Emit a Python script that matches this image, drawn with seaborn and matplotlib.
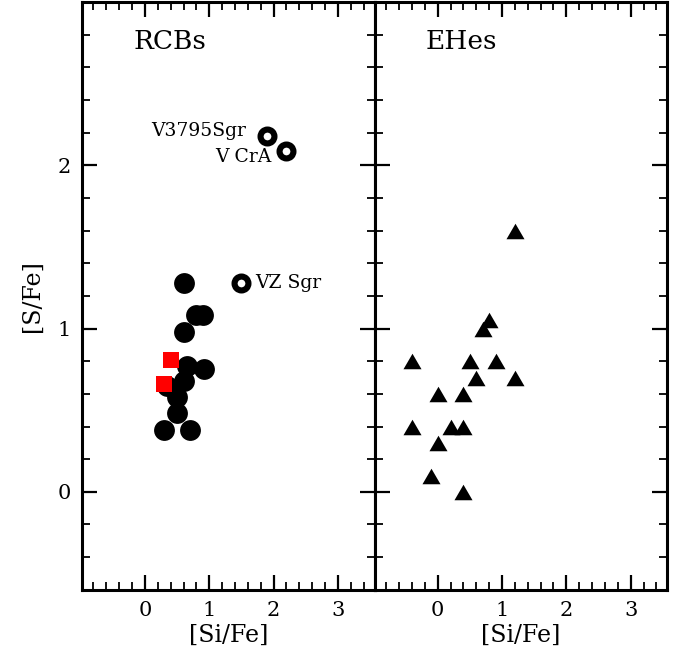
import numpy as np
import pandas as pd
import matplotlib
matplotlib.use("Agg")
import matplotlib.pyplot as plt
from matplotlib.ticker import MultipleLocator
import seaborn as sns

# === DATOS ===
# RCBs (circulos llenos)
rcb_si = [0.8, 0.9, 0.6, 0.6, 0.65, 0.92, 0.6, 0.35, 0.5, 0.5, 0.3, 0.7]
rcb_s = [1.08, 1.08, 1.28, 0.98, 0.77, 0.75, 0.68, 0.65, 0.58, 0.48, 0.38, 0.38]

# RCBs minoritarias (circulos abiertos)
odd_names = ["VZ Sgr", "V3795Sgr", "V CrA"]
odd_si = [1.5, 1.9, 2.2]
odd_s = [1.28, 2.18, 2.09]

# cuadrados rojos
red_si = [0.4, 0.3]
red_s = [0.81, 0.66]

# EHes (triangulos)
ehe_si = [1.2, 0.8, 0.7, -0.4, 0.5, 0.9, 0.6, 1.2, 0.0, 0.4, -0.4, 0.2, 0.4, 0.0, -0.1, 0.4]
ehe_s = [1.6, 1.05, 1.0, 0.8, 0.8, 0.8, 0.7, 0.7, 0.6, 0.6, 0.4, 0.4, 0.4, 0.3, 0.1, 0.0]

x_ticks = [0, 1, 2, 3]
y_ticks = [0, 1, 2]

rcb = pd.DataFrame({"si": rcb_si, "s": rcb_s})
odd = pd.DataFrame({"si": odd_si, "s": odd_s, "name": odd_names})
red = pd.DataFrame({"si": red_si, "s": red_s})
ehe = pd.DataFrame({"si": ehe_si, "s": ehe_s})

sns.set_theme(style="ticks")
plt.rcParams['font.family'] = ['DejaVu Serif']
plt.rcParams['text.color'] = 'black'
plt.rcParams['axes.labelcolor'] = 'black'
plt.rcParams['xtick.color'] = 'black'
plt.rcParams['ytick.color'] = 'black'

fig, (ax1, ax2) = plt.subplots(1, 2, figsize=(6.88, 6.59), dpi=100, sharey=True)
fig.subplots_adjust(left=0.119, right=0.970, bottom=0.105, top=0.997, wspace=0)

# panel izquierdo
sns.scatterplot(data=rcb, x="si", y="s", ax=ax1, color="black", marker="o",
                s=225, linewidth=0, zorder=3, legend=False)
sns.scatterplot(data=odd, x="si", y="s", ax=ax1, color="white", marker="o",
                s=100, edgecolor="black", linewidth=4.4, zorder=3, legend=False)
sns.scatterplot(data=red, x="si", y="s", ax=ax1, color="red", marker="s",
                s=128, linewidth=0, zorder=4, legend=False)

ax1.text(1.71, 1.28, odd_names[0], fontsize=13.5, ha="left", va="center")
ax1.text(1.57, 2.21, odd_names[1], fontsize=13.5, ha="right", va="center")
ax1.text(1.96, 2.05, odd_names[2], fontsize=13.5, ha="right", va="center")

# panel derecho
tri = [(-1, -0.86), (1, -0.86), (0, 0.86)]
sns.scatterplot(data=ehe, x="si", y="s", ax=ax2, color="black", marker=tri,
                s=169, linewidth=0, zorder=3, legend=False)

for ax, title in [(ax1, "RCBs"), (ax2, "EHes")]:
    ax.set_xlim(-0.98, 3.57)
    ax.set_ylim(-0.6, 3.0)
    ax.set_xticks(x_ticks)
    ax.set_yticks(y_ticks)
    ax.xaxis.set_minor_locator(MultipleLocator(0.2))
    ax.yaxis.set_minor_locator(MultipleLocator(0.2))
    ax.tick_params(which="both", direction="in", top=True, right=True,
                   width=1.6, labelsize=15, pad=8)
    ax.tick_params(which="major", length=11)
    ax.tick_params(which="minor", length=6, width=1.3)
    for sp in ax.spines.values():
        sp.set_linewidth(2.2)
        sp.set_color("black")
    ax.set_xlabel("[Si/Fe]", fontsize=17, labelpad=3)
    ax.text(0.175, 0.932, title, transform=ax.transAxes, fontsize=19,
            ha="left", va="center")

ax1.set_ylabel("[S/Fe]", fontsize=17, labelpad=10)
ax2.set_ylabel("")
ax2.tick_params(labelleft=False)

plt.savefig("out.png", dpi=100)
